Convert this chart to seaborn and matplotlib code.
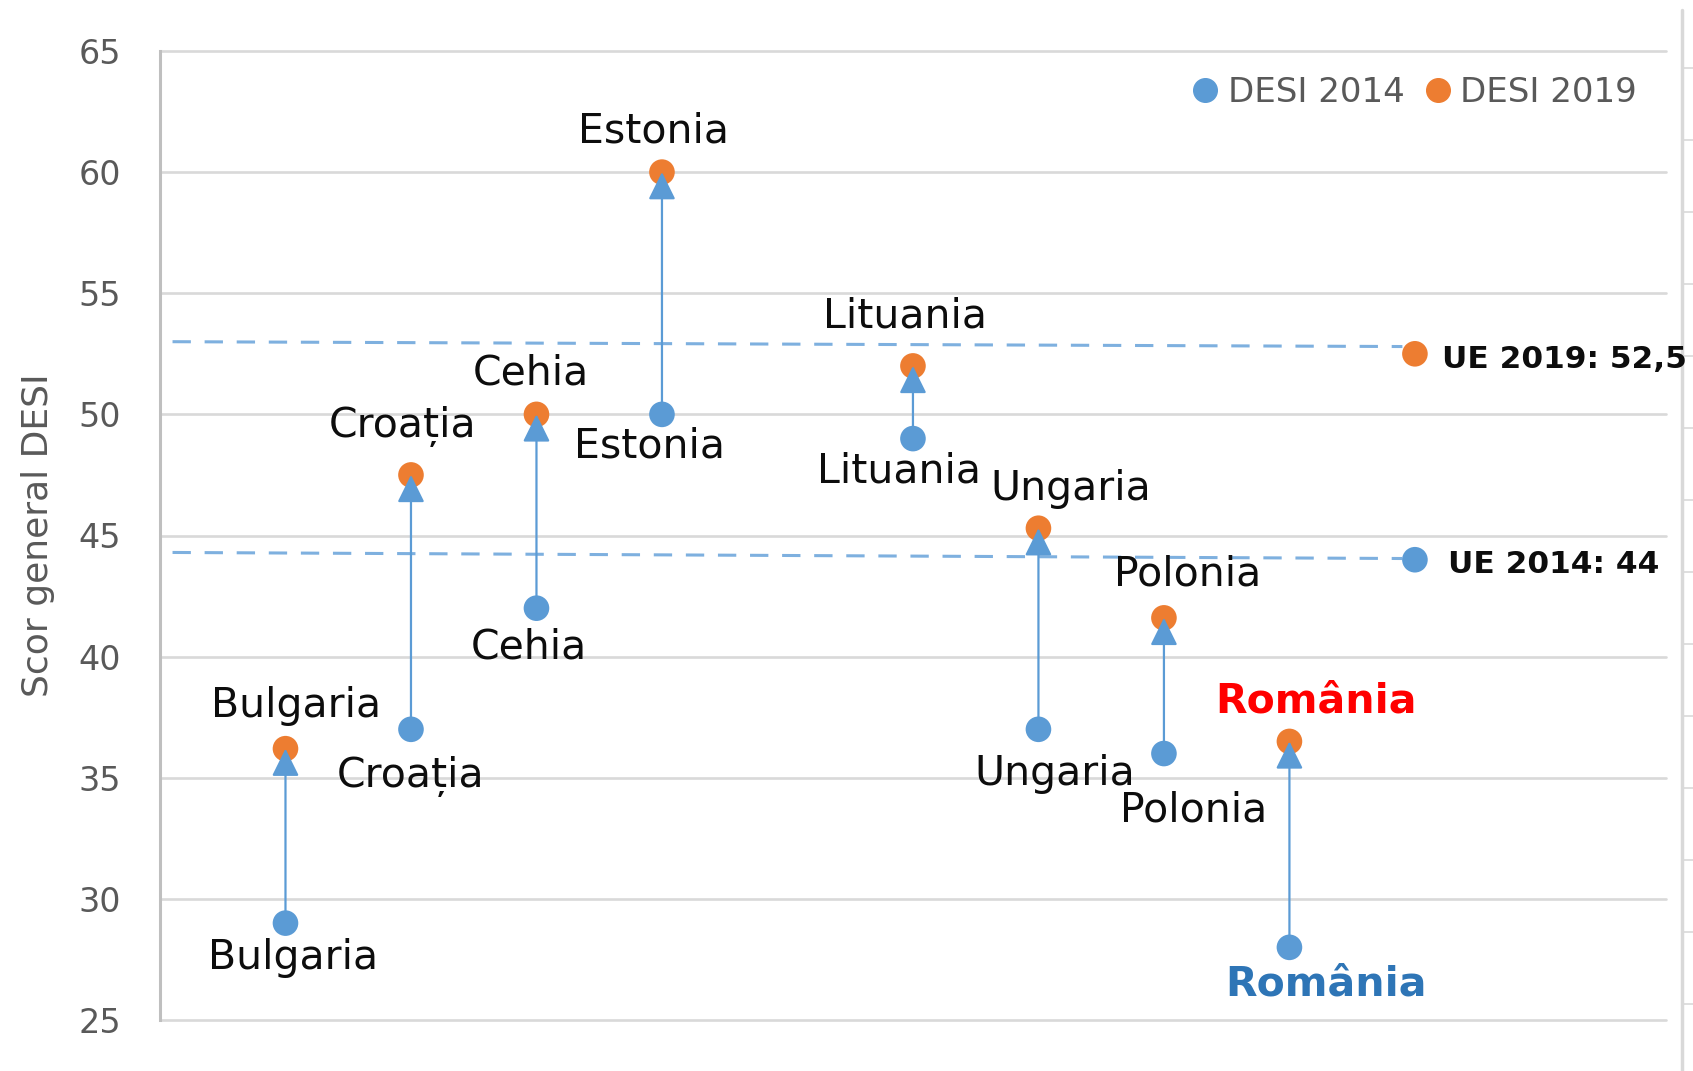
import numpy as np
import pandas as pd
import matplotlib
matplotlib.use('Agg')
import matplotlib.pyplot as plt
from matplotlib.lines import Line2D
import seaborn as sns

# Date DESI (scor general)
tari = ['Bulgaria', 'Croația', 'Cehia', 'Estonia', '', 'Lituania',
        'Ungaria', 'Polonia', 'România']
desi_2014 = [29.0, 37.0, 42.0, 50.0, np.nan, 49.0, 37.0, 36.0, 28.0]
desi_2019 = [36.2, 47.5, 50.0, 60.0, np.nan, 52.0, 45.3, 41.6, 36.5]
ue_2014 = 44.0
ue_2019 = 52.5
# capetele liniilor punctate pentru media UE (stanga, dreapta)
ue_linie_2014 = [44.3, 44.05]
ue_linie_2019 = [53.0, 52.8]
yticks = [25, 30, 35, 40, 45, 50, 55, 60, 65]

BLUE = '#5B9BD5'
ORANGE = '#ED7D31'

# deplasarea etichetelor fata de puncte (pixeli)
off_2019 = [(11, 43), (-8, 48), (-6, 41), (-8, 41), None, (-8, 49),
            (32, 39), (24, 43), (27, 40)]
off_2014 = [(8, -35), (0, -47), (-8, -39), (-12, -32), None, (-14, -33),
            (16, -45), (30, -57), (37, -37)]

x_pos = np.arange(1, len(tari) + 1)
x_ue = len(tari) + 1

df = pd.DataFrame({
    'x': np.concatenate([x_pos, [x_ue], x_pos, [x_ue]]),
    'scor': np.concatenate([desi_2014, [ue_2014], desi_2019, [ue_2019]]),
    'an': ['DESI 2014'] * (len(tari) + 1) + ['DESI 2019'] * (len(tari) + 1),
}).dropna()

sns.set_style('white')
plt.rcParams['font.family'] = ['DejaVu Sans']

fig = plt.figure(figsize=(16.93, 10.71), dpi=100)

# marginea graficului alaturat (dreapta), desenata sub grafic
edge = fig.add_axes([0, 0, 1, 1], zorder=0)
edge.set_axis_off()
edge.set_xlim(0, 1693)
edge.set_ylim(1071, 0)
edge.plot([1682, 1682], [10, 1071], color='#D9D9D9', lw=2.5)
for ty in np.arange(68, 1071, 72):
    edge.plot([1682, 1693], [ty, ty], color='#D9D9D9', lw=1.2)

ax = fig.add_axes([0.0945, 0.0476, 0.8895, 0.9048], zorder=1)
ax.patch.set_alpha(0)

# linii punctate UE
ax.plot([0.1, x_ue - 0.1], ue_linie_2019, color='#7EB0DF', lw=2.2,
        dashes=(6, 4.5), zorder=1)
ax.plot([0.1, x_ue - 0.1], ue_linie_2014, color='#7EB0DF', lw=2.2,
        dashes=(6, 4.5), zorder=1)

sns.scatterplot(data=df, x='x', y='scor', hue='an',
                palette={'DESI 2014': BLUE, 'DESI 2019': ORANGE},
                s=340, linewidth=0, ax=ax, zorder=3)

# sageti 2014 -> 2019
for xi, a, b in zip(x_pos, desi_2014, desi_2019):
    if np.isnan(a):
        continue
    ax.annotate('', xy=(xi, b), xytext=(xi, a),
                arrowprops=dict(arrowstyle='-|>,head_length=0.85,head_width=0.42',
                                color=BLUE, lw=1.6, mutation_scale=20,
                                shrinkA=0, shrinkB=0), zorder=4)

# etichete tari
for i, name in enumerate(tari):
    if not name:
        continue
    kw = dict(color='#0D0D0D', fontweight='normal')
    kw14 = dict(kw)
    if name == 'România':
        kw = dict(color='#FF0000', fontweight='bold')
        kw14 = dict(color='#2E75B6', fontweight='bold')
    ax.annotate(name, (x_pos[i], desi_2019[i]), xytext=off_2019[i],
                textcoords='offset pixels', ha='center', va='center',
                fontsize=29.5, zorder=5, **kw)
    ax.annotate(name, (x_pos[i], desi_2014[i]), xytext=off_2014[i],
                textcoords='offset pixels', ha='center', va='center',
                fontsize=29.5, zorder=5, **kw14)

ax.annotate(f'UE 2019: {ue_2019:.1f}'.replace('.', ','), (x_ue, ue_2019),
            xytext=(27, -6), textcoords='offset pixels', ha='left',
            va='center', fontsize=22.5, fontweight='bold', color='#0D0D0D',
            annotation_clip=False)
ax.annotate(f'UE 2014: {ue_2014:.0f}', (x_ue, ue_2014),
            xytext=(33, -5), textcoords='offset pixels', ha='left',
            va='center', fontsize=22.5, fontweight='bold', color='#0D0D0D',
            annotation_clip=False)

ax.set_xlim(0, 12)
ax.set_ylim(25, 65)
ax.set_yticks(yticks)
ax.set_xticks([])
ax.set_xlabel('')
ax.set_ylabel('Scor general DESI', fontsize=26, color='#595959')
ax.yaxis.set_label_coords(-0.07, 0.5)
ax.tick_params(axis='y', labelsize=24, labelcolor='#595959', length=0, pad=28)
ax.grid(axis='y', color='#D9D9D9', lw=1.9)
for gl in ax.get_ygridlines():
    gl.set_clip_on(False)
ax.set_axisbelow(True)
for sp in ['top', 'right', 'bottom']:
    ax.spines[sp].set_visible(False)
ax.spines['left'].set_color('#BFBFBF')
ax.spines['left'].set_linewidth(2.2)

handles = [Line2D([], [], marker='o', ls='', color=c, markersize=17)
           for c in (BLUE, ORANGE)]
ax.legend(handles, ['DESI 2014', 'DESI 2019'], loc='center right',
          bbox_to_anchor=(0.99, 0.957), ncol=2, frameon=False, fontsize=24.5,
          labelcolor='#595959', handletextpad=0.15, columnspacing=0.5,
          borderaxespad=0, handlelength=1.0)

fig.savefig('out.png', dpi=100)
